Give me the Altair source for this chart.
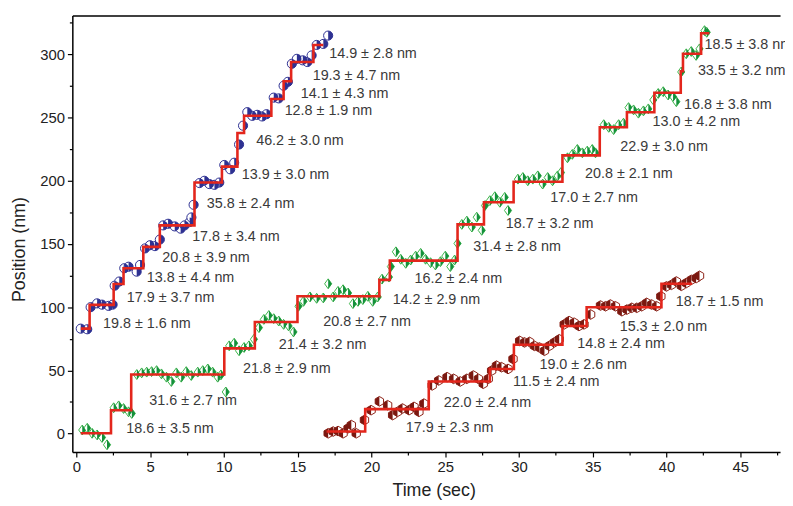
import math
import altair as alt
import pandas as pd

# ---------------- data ----------------
blue_t = [0.30, 0.74, 0.97, 1.41, 1.74, 2.19, 2.46, 2.60, 2.91, 3.25, 3.54, 4.09, 4.32,
          4.66, 4.99, 5.33, 5.66, 5.89, 6.22, 6.67, 7.07, 7.34, 7.68, 7.80, 7.95,
          8.35, 8.68, 9.02, 9.36, 9.69, 10.03, 10.43, 10.70, 11.03, 11.30,
          11.59, 11.93, 12.26, 12.60, 12.89, 13.38, 13.72, 14.05, 14.34,
          14.61, 14.95, 15.35, 15.66, 15.95, 16.29, 16.74, 17.07]
blue_p = [83.0, 82.5, 100.0, 103.0, 102.0, 101.0, 102.0, 117.0, 120.3, 130.8, 132.0, 128.1, 133.4,
          146.5, 149.0, 148.3, 153.5, 164.7, 166.0, 163.9, 162.1, 164.7, 167.3, 171.0, 181.0,
          198.2, 200.0, 197.4, 196.8, 198.6, 212.5, 209.1, 214.3, 228.7, 243.6,
          254.3, 251.4, 252.2, 250.9, 252.7, 265.8, 265.2, 275.2, 278.3,
          292.6, 296.5, 295.3, 294.0, 299.2, 307.5, 308.3, 314.9]

green_t = [0.40, 0.74, 1.07, 1.41, 1.74, 2.08,
           2.53, 2.87, 3.20, 3.54, 3.76,
           4.10, 4.43, 4.77, 5.10, 5.44, 5.77, 6.11, 6.44, 6.78, 7.11, 7.45, 7.79, 8.23, 8.57, 8.91, 9.24, 9.58, 9.80, 10.13,
           10.36, 10.70, 11.03, 11.37, 11.70, 12.04,
           12.38, 12.71, 13.05, 13.38, 13.72, 14.05, 14.39, 14.72,
           15.06, 15.40, 15.84, 16.29, 16.74, 17.07, 17.41, 17.74, 18.08, 18.42, 18.75, 19.09, 19.42, 19.76, 20.09, 20.43,
           20.72, 21.19,
           21.32, 21.66, 21.99, 22.33, 22.66, 23.00, 23.34, 23.67, 24.01, 24.34, 24.68, 25.01, 25.35, 25.64, 25.84,
           26.13, 26.47, 26.81, 27.14, 27.48,
           27.70, 28.03, 28.37, 28.71, 29.04, 29.26,
           29.93, 30.27, 30.60, 30.94, 31.28, 31.61, 31.95, 32.28, 32.62, 32.85,
           33.29, 33.62, 33.96, 34.30, 34.63, 34.97, 35.19,
           35.75, 36.09, 36.42, 36.76, 37.09,
           37.43, 37.77, 38.10, 38.44, 38.77,
           39.11, 39.44, 39.78, 40.11, 40.45, 40.67, 41.00,
           41.34, 41.68, 42.01, 42.24,
           42.58, 42.73]
green_p = [2.8, 4.2, 0.2, -1.1, -3.1, -8.9,
           20.4, 21.9, 19.8, 17.2, 15.9,
           46.7, 48.0, 48.6, 49.0, 49.8, 47.2, 44.6, 41.2, 48.0, 44.6, 49.0, 45.9, 48.6, 49.8, 51.1, 48.6, 44.6, 46.4, 32.9,
           69.4, 71.5, 65.5, 68.1, 69.4, 74.6,
           83.8, 90.3, 93.4, 90.9, 89.0, 86.4, 85.1, 80.4,
           100.7, 104.6, 108.1, 107.0, 107.3, 118.5, 108.1, 112.5, 113.8, 111.2, 102.8, 104.6, 106.0, 108.6, 104.6, 108.1,
           122.2, 123.8,
           132.1, 143.8, 137.9, 134.7, 137.3, 140.4, 142.6, 137.9, 135.2, 133.4, 136.0, 140.4, 132.1, 137.3, 150.4,
           165.5, 168.1, 163.4, 171.2, 160.8,
           180.4, 184.3, 187.4, 183.0, 186.9, 176.5,
           201.3, 202.6, 200.0, 201.3, 203.9, 197.4, 202.6, 200.0, 203.9, 206.5,
           218.2, 220.9, 224.8, 222.1, 223.5, 224.8, 222.1,
           244.4, 242.3, 240.5, 244.4, 245.6,
           257.9, 256.1, 253.5, 255.3, 256.9,
           264.0, 269.1, 270.5, 267.9, 266.5, 262.6, 286.1,
           300.5, 302.3, 299.2, 304.4,
           318.8, 317.5]

red_t = [17.07, 17.41, 17.74, 18.08, 18.42, 18.64, 18.97, 19.53,
         19.98, 20.54, 21.10, 21.44, 21.77, 22.11, 22.55, 22.89, 23.22, 23.56,
         24.12, 24.56, 25.13, 25.57, 26.02, 26.47, 26.91, 27.25, 27.58, 27.92,
         28.15, 28.48, 28.82, 29.26, 29.60,
         30.05, 30.38, 30.72, 31.05, 31.39, 31.73, 32.06, 32.40, 32.73,
         33.07, 33.40, 33.74, 34.07, 34.41, 34.86,
         35.53, 35.87, 36.20, 36.54, 36.98, 37.32, 37.65, 37.99, 38.32, 38.66, 38.99, 39.33, 39.62,
         40.00, 40.34, 40.67, 41.01, 41.34, 41.68, 42.01, 42.24]
red_p = [0.2, 1.6, 2.0, 0.2, 4.2, 6.7, 0.2, 10.7,
         18.5, 25.5, 22.4, 14.6, 17.2, 19.8, 18.5, 21.1, 17.2, 23.7,
         38.1, 42.0, 44.6, 43.3, 41.2, 43.3, 45.9, 43.3, 39.4, 43.3,
         49.8, 53.7, 52.5, 51.1, 59.0,
         73.3, 72.1, 72.5, 69.4, 68.1, 65.5, 69.4, 72.1, 74.6,
         86.4, 89.0, 87.7, 85.1, 86.4, 94.2,
         101.3, 100.7, 102.1, 100.7, 96.8, 98.1, 99.5, 99.5, 100.7, 103.4, 102.1, 100.7, 108.6,
         116.4, 117.7, 120.3, 116.9, 119.1, 121.6, 123.0, 124.8]

# step fits (step-after: each level starts at t and holds until next t)
blue_step_t = [0.30, 0.90, 2.53, 3.20, 4.54, 5.66, 8.01, 9.87, 10.92, 11.37, 13.22, 14.05, 14.56, 16.07, 16.74]
blue_step_p = [83.0, 101.8, 118.3, 130.8, 147.7, 164.7, 198.6, 211.2, 237.8, 251.4, 264.7, 278.8, 294.0, 307.5, 307.5]

green_step_t = [0.30, 2.35, 3.72, 10.03, 12.10, 14.99, 20.54, 21.25, 25.84, 27.63, 29.64, 32.95,
                35.48, 37.32, 39.18, 40.97, 41.12, 42.35, 42.91]
green_step_p = [0.2, 18.5, 46.7, 67.4, 88.2, 108.6, 121.6, 136.8, 165.5, 183.0, 199.2, 220.1,
                242.3, 254.3, 269.7, 286.7, 300.5, 316.7, 316.7]

red_step_t = [16.96, 19.58, 23.89, 28.03, 29.66, 32.95, 34.59, 39.66, 41.74]
red_step_p = [1.6, 19.3, 41.2, 51.1, 70.2, 85.1, 100.0, 118.5, 118.5]

# step-size annotations
label_text = [
    "14.9 ± 2.8 nm", "19.3 ± 4.7 nm", "14.1 ± 4.3 nm", "12.8 ± 1.9 nm", "46.2 ± 3.0 nm",
    "13.9 ± 3.0 nm", "35.8 ± 2.4 nm", "17.8 ± 3.4 nm", "20.8 ± 3.9 nm", "13.8 ± 4.4 nm",
    "17.9 ± 3.7 nm", "19.8 ± 1.6 nm",
    "18.6 ± 3.5 nm", "31.6 ± 2.7 nm", "21.8 ± 2.9 nm", "21.4 ± 3.2 nm", "20.8 ± 2.7 nm",
    "14.2 ± 2.9 nm", "16.2 ± 2.4 nm", "31.4 ± 2.8 nm", "18.7 ± 3.2 nm", "17.0 ± 2.7 nm",
    "20.8 ± 2.1 nm", "22.9 ± 3.0 nm", "13.0 ± 4.2 nm", "16.8 ± 3.8 nm", "33.5 ± 3.2 nm",
    "18.5 ± 3.8 nm",
    "17.9 ± 2.3 nm", "22.0 ± 2.4 nm", "11.5 ± 2.4 nm", "19.0 ± 2.6 nm", "14.8 ± 2.4 nm",
    "15.3 ± 2.0 nm", "18.7 ± 1.5 nm",
]
label_t = [17.14, 16.02, 15.21, 14.12, 12.19, 11.21, 8.84, 7.85, 5.82, 4.77, 3.42, 1.81,
           3.38, 4.95, 11.30, 13.72, 16.74, 21.44, 22.93, 26.91, 29.11, 32.13, 34.48, 36.87,
           39.06, 41.19, 42.13, 42.58,
           22.33, 24.90, 29.60, 31.39, 33.96, 36.83, 40.63]
label_p = [300.5, 283.0, 268.4, 255.3, 231.3, 204.7, 181.7, 155.1, 138.6, 122.7, 107.3, 86.4,
           3.6, 25.8, 51.1, 70.2, 88.5, 106.0, 122.2, 147.7, 166.1, 186.1, 205.7, 226.8,
           246.4, 260.0, 286.7, 307.5,
           4.2, 24.3, 40.7, 54.5, 70.7, 84.3, 103.9]

x_major_ticks = [0, 5, 10, 15, 20, 25, 30, 35, 40, 45]
x_minor_ticks = [2.5, 7.5, 12.5, 17.5, 22.5, 27.5, 32.5, 37.5, 42.5, 47.5]
y_major_ticks = [0, 50, 100, 150, 200, 250, 300]
y_minor_ticks = [25, 75, 125, 175, 225, 275, 325]

# ---------------- chart ----------------
FONT = "Liberation Sans"
X_DOM = [-0.27, 47.7]
Y_DOM = [-14.6, 330.8]
xsc = alt.Scale(domain=X_DOM, nice=False, zero=False)
ysc = alt.Scale(domain=Y_DOM, nice=False, zero=False)

def frame(t, p):
    return pd.DataFrame({"t": t, "p": p})

# marker shapes (unit paths)
half_circle = "M0,-1 " + " ".join(
    "L%.3f,%.3f" % (math.cos(math.radians(a)), math.sin(math.radians(a)))
    for a in range(-90, 91, 15)) + " Z"
diamond = "M0,-1 L0.72,0 L0,1 L-0.72,0 Z"
half_diamond = "M0,-1 L0.72,0 L0,1 Z"
hexagon = "M0,-1 L0.866,-0.5 L0.866,0.5 L0,1 L-0.866,0.5 L-0.866,-0.5 Z"
half_hexagon = "M0,-1 L-0.866,-0.5 L-0.866,0.5 L0,1 Z"

NOX = alt.X("t:Q", scale=xsc, axis=None)
NOY = alt.Y("p:Q", scale=ysc, axis=None)


def markers(t, p, shape_full, shape_half, stroke, fill, size):
    d = frame(t, p)
    outline = alt.Chart(d).mark_point(
        shape=shape_full, filled=True, fill="white", stroke=stroke, strokeWidth=1,
        size=size, opacity=1
    ).encode(x=NOX, y=NOY)
    half = alt.Chart(d).mark_point(
        shape=shape_half, filled=True, fill=fill, strokeWidth=0, size=size, opacity=1
    ).encode(x=NOX, y=NOY)
    return [outline, half]


layers = []
layers += markers(blue_t, blue_p, "circle", half_circle, "#2E3192", "#2E3192", 85)
layers += markers(green_t, green_p, diamond, half_diamond, "#3DB54A", "#13903A", 100)
layers += markers(red_t, red_p, hexagon, half_hexagon, "#8E2318", "#7A1810", 95)

axis_common = dict(domainColor="black", domainWidth=1.5, tickColor="black", tickWidth=1.2,
                   grid=False)

x_major = alt.Axis(orient="bottom", values=x_major_ticks, tickSize=5, labelFontSize=15,
                   labelFont=FONT, labelColor="#222222", labelPadding=3, format="d",
                   titleFont=FONT, titleFontSize=18, titleFontWeight="normal",
                   titleColor="#222222", titleX=365, titleY=39, titleBaseline="middle",
                   **axis_common)
y_major = alt.Axis(orient="left", values=y_major_ticks, tickSize=5, labelFontSize=15,
                   labelFont=FONT, labelColor="#222222", labelPadding=3, format="d",
                   titleFont=FONT, titleFontSize=18, titleFontWeight="normal",
                   titleColor="#222222", titleAngle=270, titleX=-53, titleY=236,
                   titleAlign="center", titleBaseline="middle", **axis_common)
x_minor = alt.Axis(orient="bottom", values=x_minor_ticks, tickSize=3, labels=False,
                   domain=False, **axis_common)
y_minor = alt.Axis(orient="left", values=y_minor_ticks, tickSize=3, labels=False,
                   domain=False, **axis_common)
x_top = alt.Axis(orient="top", ticks=False, labels=False, domain=True, **axis_common)

STEP_COLOR = "#E3261C"

step_blue = alt.Chart(frame(blue_step_t, blue_step_p)).mark_line(
    interpolate="step-after", color=STEP_COLOR, strokeWidth=2.6
).encode(x=alt.X("t:Q", scale=xsc, axis=x_major, title="Time (sec)"),
         y=alt.Y("p:Q", scale=ysc, axis=y_major, title="Position (nm)"))

step_green = alt.Chart(frame(green_step_t, green_step_p)).mark_line(
    interpolate="step-after", color=STEP_COLOR, strokeWidth=2.6
).encode(x=alt.X("t:Q", scale=xsc, axis=x_minor, title=None),
         y=alt.Y("p:Q", scale=ysc, axis=y_minor, title=None))

step_red = alt.Chart(frame(red_step_t, red_step_p)).mark_line(
    interpolate="step-after", color=STEP_COLOR, strokeWidth=2.6
).encode(x=alt.X("t:Q", scale=xsc, axis=x_top, title=None), y=NOY)

labels = alt.Chart(pd.DataFrame({"label": label_text, "t": label_t, "p": label_p})).mark_text(
    align="left", baseline="middle", font=FONT, fontSize=14.5, color="#3A3A3A"
).encode(x=NOX, y=NOY, text="label:N")

layers += [step_blue, step_green, step_red, labels]

chart = alt.layer(*layers).resolve_axis(
    x="independent", y="independent"
).properties(
    width=715, height=441,
    autosize=alt.AutoSizeParams(type="none"),
    padding={"left": 65, "top": 5, "right": 5, "bottom": 52},
    background="white",
).configure_view(strokeWidth=0)

chart.save("out.html", embed_options={"renderer": "svg", "actions": False})
